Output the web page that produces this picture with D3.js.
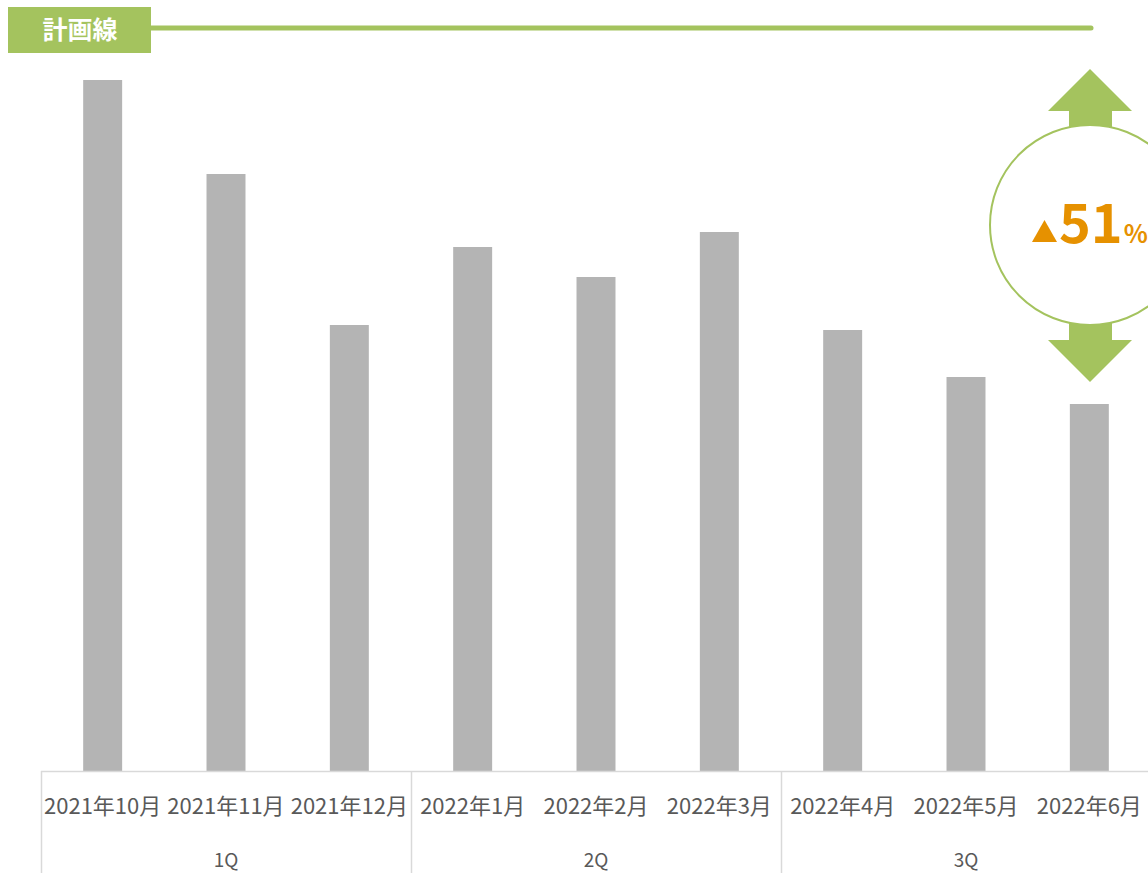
<!DOCTYPE html>
<html><head><meta charset="utf-8">
<script src="https://cdn.jsdelivr.net/npm/d3@7"></script>
<style>html,body{margin:0;padding:0;background:#fff;overflow:hidden}</style>
</head><body><svg id="c" width="1148" height="873"></svg>
<script>
const months = ["2021年10月","2021年11月","2021年12月","2022年1月","2022年2月","2022年3月","2022年4月","2022年5月","2022年6月"];
const quarters = ["1Q","2Q","3Q"];
const values = [691, 597, 446, 524, 494, 539, 441, 394, 367];
const planLabel = "計画線";
const changeValue = "51";

const svg = d3.select("#c");
const green = "#A4C35E", orange = "#E69100", barColor = "#B4B4B4", textColor = "#595959";
const fontJP = "'Noto Sans CJK JP','Noto Sans',sans-serif";

const x0 = 41, x1 = 1151, yBase = 771;
const x = d3.scaleBand().domain(months).range([x0, x1]).paddingInner(0.684).paddingOuter(0.342);
const xq = d3.scaleBand().domain(quarters).range([x0, x1]);
const y = d3.scaleLinear().domain([0, 700]).range([yBase, 71]);

// bars
svg.selectAll("rect.bar").data(values).join("rect").attr("class","bar")
  .attr("x",(d,i)=>x(months[i])).attr("width",x.bandwidth())
  .attr("y",d=>y(d)).attr("height",d=>yBase-y(d)).attr("fill",barColor);

// axis line
svg.append("line").attr("x1",x0).attr("x2",1148).attr("y1",yBase+0.5).attr("y2",yBase+0.5)
  .attr("stroke","#D9D9D9").attr("stroke-width",1.5);
// quarter separators
quarters.forEach(q=>{
  const xl = Math.round(xq(q))+0.5;
  svg.append("line").attr("x1",xl).attr("x2",xl).attr("y1",yBase).attr("y2",873)
    .attr("stroke","#D9D9D9").attr("stroke-width",1.5);
});
// month labels
svg.selectAll("text.m").data(months).join("text").attr("class","m")
  .attr("x",d=>x(d)+x.bandwidth()/2).attr("y",814).attr("text-anchor","middle")
  .attr("font-family",fontJP).attr("font-size",22).attr("fill",textColor).text(d=>d);
// quarter labels
svg.selectAll("text.q").data(quarters).join("text").attr("class","q")
  .attr("x",d=>xq(d)+xq.bandwidth()/2).attr("y",867).attr("text-anchor","middle")
  .attr("font-family",fontJP).attr("font-size",19).attr("fill",textColor).text(d=>d);

// plan line + label
svg.append("line").attr("x1",150).attr("x2",1091).attr("y1",28).attr("y2",28)
  .attr("stroke",green).attr("stroke-width",5).attr("stroke-linecap","round");
svg.append("rect").attr("x",8).attr("y",7).attr("width",143).attr("height",46).attr("fill",green);
svg.append("text").attr("x",80).attr("y",39).attr("text-anchor","middle")
  .attr("font-family",fontJP).attr("font-weight","bold").attr("font-size",25)
  .attr("fill","#fff").text(planLabel);

// arrows
const cx = 1090, cy = 225, r = 100;
svg.append("path").attr("fill",green)
  .attr("d",`M${cx},69 L${cx+42},111 L${cx+22},111 L${cx+22},${cy-r+5} L${cx-21},${cy-r+5} L${cx-21},111 L${cx-42},111 Z`);
svg.append("path").attr("fill",green)
  .attr("d",`M${cx},382 L${cx+42},340 L${cx+22},340 L${cx+22},${cy+r-5} L${cx-21},${cy+r-5} L${cx-21},340 L${cx-42},340 Z`);
svg.append("circle").attr("cx",cx).attr("cy",cy).attr("r",r).attr("fill","#fff")
  .attr("stroke",green).attr("stroke-width",2);
// ▲51%
svg.append("path").attr("fill",orange).attr("d","M1032,242 L1044.5,220 L1057,242 Z");
svg.append("text").attr("x",1059).attr("y",243)
  .attr("font-family","'Noto Sans CJK JP',sans-serif").attr("font-weight","bold").attr("font-size",54)
  .attr("fill",orange).text(changeValue)
  .append("tspan").attr("font-size",25).attr("dx",1).text("%");
</script></body></html>
